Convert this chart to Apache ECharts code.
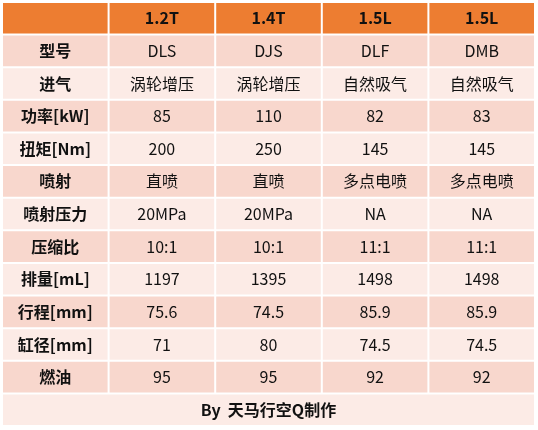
<!DOCTYPE html><html><head><meta charset="utf-8">
<script src="https://cdn.jsdelivr.net/npm/echarts@6/dist/echarts.min.js"></script>
<style>html,body{margin:0;background:#fff}#c{width:538px;height:430px}</style></head><body><div id="c"></div>
<script>
const headers = ['', '1.2T', '1.4T', '1.5L', '1.5L'];
const rowLabels = ['型号','进气','功率[kW]','扭矩[Nm]','喷射','喷射压力','压缩比','排量[mL]','行程[mm]','缸径[mm]','燃油'];
const col12T = ['DLS','涡轮增压','85','200','直喷','20MPa','10:1','1197','75.6','71','95'];
const col14T = ['DJS','涡轮增压','110','250','直喷','20MPa','10:1','1395','74.5','80','95'];
const col15L_a = ['DLF','自然吸气','82','145','多点电喷','NA','11:1','1498','85.9','74.5','92'];
const col15L_b = ['DMB','自然吸气','83','145','多点电喷','NA','11:1','1498','85.9','74.5','92'];
const footer = 'By  天马行空Q制作';
const cols = [rowLabels, col12T, col14T, col15L_a, col15L_b];
const nRows = rowLabels.length + 2;
const data = [];
headers.forEach((h,c)=>data.push([c,0,h,'head',1]));
cols.forEach((arr,c)=>arr.forEach((v,r)=>data.push([c,r+1,v,c===0?'label':'cell',1])));
data.push([0,nRows-1,footer,'foot',5]);
const chart = echarts.init(document.getElementById('c'));
chart.setOption({
  animation:false,
  grid:{left:2,right:3,top:2,bottom:4},
  xAxis:{type:'category',data:[0,1,2,3,4],show:false},
  yAxis:{type:'category',data:Array.from({length:nRows},(_,i)=>i),inverse:true,show:false},
  series:[{type:'custom',data:data,renderItem:function(params,api){
    const c=api.value(0), r=api.value(1), span=api.value(4);
    const item=data[params.dataIndex];
    const sz=api.size([1,1]);
    const p=api.coord([c,r]);
    const x0=p[0]-sz[0]/2, y0=p[1]-sz[1]/2, w=sz[0]*span, h=sz[1];
    let fill, bold=false;
    if(item[3]==='head'){fill='#ED7D31';bold=true;}
    else if(item[3]==='foot'){fill='#FCEBE6';bold=true;}
    else {fill=(r%2===1)?'#F8D7CD':'#FCEBE6'; bold=item[3]==='label';}
    return {type:'group',children:[
      {type:'rect',shape:{x:x0+1,y:y0+1,width:w-2,height:h-2},style:{fill:fill}},
      {type:'text',style:{text:item[2],x:x0+w/2,y:y0+h/2,align:'center',verticalAlign:'middle',
        font:(bold?'bold ':'')+'16px "Noto Sans CJK SC", sans-serif',fill:'#111'}}
    ]};
  }}]
});
</script></body></html>
